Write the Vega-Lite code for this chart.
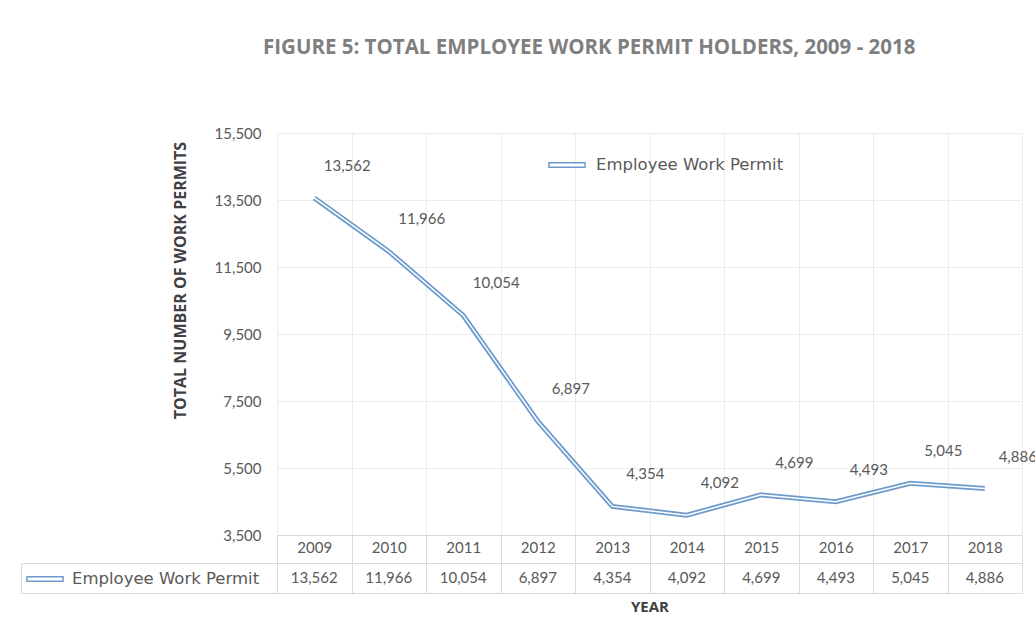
{
  "$schema": "https://vega.github.io/schema/vega-lite/v6.json",
  "padding": {"left": 20, "top": 37, "right": 0, "bottom": 0},
  "background": "white",
  "title": {
    "text": "FIGURE 5: TOTAL EMPLOYEE WORK PERMIT HOLDERS, 2009 - 2018",
    "anchor": "start",
    "dx": 243,
    "fontSize": 20.5,
    "font": "Open Sans",
    "fontWeight": "bold",
    "color": "#7f7f7f",
    "offset": 68
  },
  "datasets": {
    "permits": [
      {"year": "2009", "series": "Employee Work Permit", "value": 13562},
      {"year": "2010", "series": "Employee Work Permit", "value": 11966},
      {"year": "2011", "series": "Employee Work Permit", "value": 10054},
      {"year": "2012", "series": "Employee Work Permit", "value": 6897},
      {"year": "2013", "series": "Employee Work Permit", "value": 4354},
      {"year": "2014", "series": "Employee Work Permit", "value": 4092},
      {"year": "2015", "series": "Employee Work Permit", "value": 4699},
      {"year": "2016", "series": "Employee Work Permit", "value": 4493},
      {"year": "2017", "series": "Employee Work Permit", "value": 5045},
      {"year": "2018", "series": "Employee Work Permit", "value": 4886}
    ]
  },
  "spacing": -4,
  "resolve": {
    "scale": {"color": "independent"},
    "legend": {"color": "independent"}
  },
  "vconcat": [
    {
      "width": 745,
      "height": 402,
      "data": {"name": "permits"},
      "encoding": {
        "x": {
          "field": "year",
          "type": "ordinal",
          "bandPosition": 0.5,
          "scale": {"type": "band", "paddingInner": 0, "paddingOuter": 0},
          "axis": {
            "title": null,
            "orient": "bottom",
            "tickBand": "extent",
            "tickSize": 27,
            "tickColor": "#d9d9d9",
            "domainColor": "#d9d9d9",
            "grid": true,
            "gridColor": "#ececec",
            "labelPadding": -22,
            "labelAngle": 0,
            "labelFontSize": 15,
            "labelColor": "#595959"
          }
        },
        "y": {
          "field": "value",
          "type": "quantitative",
          "scale": {"domain": [3500, 15500], "nice": false, "zero": false},
          "axis": {
            "values": [3500, 5500, 7500, 9500, 11500, 13500, 15500],
            "format": ",d",
            "title": "TOTAL NUMBER OF WORK PERMITS",
            "titleFont": "Open Sans",
            "titleFontSize": 16,
            "titleFontWeight": "bold",
            "titleColor": "#404040",
            "titlePadding": 26,
            "titleY": 147,
            "domain": false,
            "ticks": false,
            "labelPadding": 16,
            "grid": true,
            "gridColor": "#ececec",
            "labelFontSize": 15,
            "labelColor": "#595959"
          }
        }
      },
      "layer": [
        {
          "mark": {"type": "line", "strokeWidth": 5},
          "encoding": {
            "color": {
              "field": "series",
              "type": "nominal",
              "scale": {"range": ["#6d9bcc"]},
              "legend": {
                "title": null,
                "orient": "none",
                "legendX": 271,
                "legendY": 13,
                "padding": 0,
                "symbolType": "M-1,-0.12H1V0.12H-1Z",
                "symbolSize": 1300,
                "labelFont": "DejaVu Sans",
                "labelFontSize": 16.5,
                "labelLimit": 400,
                "labelColor": "#595959",
                "labelOffset": 10,
                "encode": {"symbols": {"update": {"fill": {"value": "white"}, "strokeWidth": {"value": 1.5}}}}
              }
            }
          }
        },
        {
          "mark": {"type": "line", "strokeWidth": 1.5, "color": "white"},
          "encoding": {}
        },
        {
          "mark": {"type": "text", "dx": 33, "dy": -32, "fontSize": 15, "color": "#595959"},
          "encoding": {"text": {"field": "value", "type": "quantitative", "format": ","}}
        }
      ]
    },
    {
      "width": 745,
      "height": 30,
      "data": {"name": "permits"},
      "view": {"stroke": "#d9d9d9"},
      "encoding": {
        "x": {
          "field": "year",
          "type": "ordinal",
          "bandPosition": 0.5,
          "scale": {"type": "band", "paddingInner": 0, "paddingOuter": 0},
          "axis": {
            "title": "YEAR",
            "labels": false,
            "ticks": false,
            "domain": false,
            "grid": true,
            "tickBand": "extent",
            "gridColor": "#d9d9d9",
            "titleFont": "Open Sans",
            "titleFontSize": 15,
            "titleFontWeight": "bold",
            "titleColor": "#404040",
            "titlePadding": 6
          }
        },
        "y": {
          "field": "series",
          "type": "nominal",
          "bandPosition": 0.5,
          "scale": {"type": "band", "paddingInner": 0, "paddingOuter": 0},
          "axis": {
            "title": null,
            "labels": false,
            "offset": 256,
            "tickSize": -256,
            "tickBand": "extent",
            "tickColor": "#d9d9d9",
            "domainColor": "#d9d9d9",
            "grid": false
          }
        }
      },
      "layer": [
        {
          "mark": {"type": "text", "fontSize": 15, "color": "#595959"},
          "encoding": {"text": {"field": "value", "type": "quantitative", "format": ","}}
        },
        {
          "mark": {"type": "line", "strokeWidth": 0},
          "encoding": {
            "color": {
              "field": "series",
              "type": "nominal",
              "scale": {"range": ["#6d9bcc"]},
              "legend": {
                "title": null,
                "orient": "none",
                "legendX": -251,
                "legendY": -3,
                "padding": 0,
                "symbolType": "M-1,-0.12H1V0.12H-1Z",
                "symbolSize": 1300,
                "labelFont": "DejaVu Sans",
                "labelFontSize": 16.5,
                "labelLimit": 400,
                "labelColor": "#595959",
                "labelOffset": 8,
                "encode": {"symbols": {"update": {"fill": {"value": "white"}, "strokeWidth": {"value": 1.5}}}}
              }
            }
          }
        }
      ]
    }
  ],
  "config": {
    "font": "Lato",
    "view": {"stroke": null}
  }
}
